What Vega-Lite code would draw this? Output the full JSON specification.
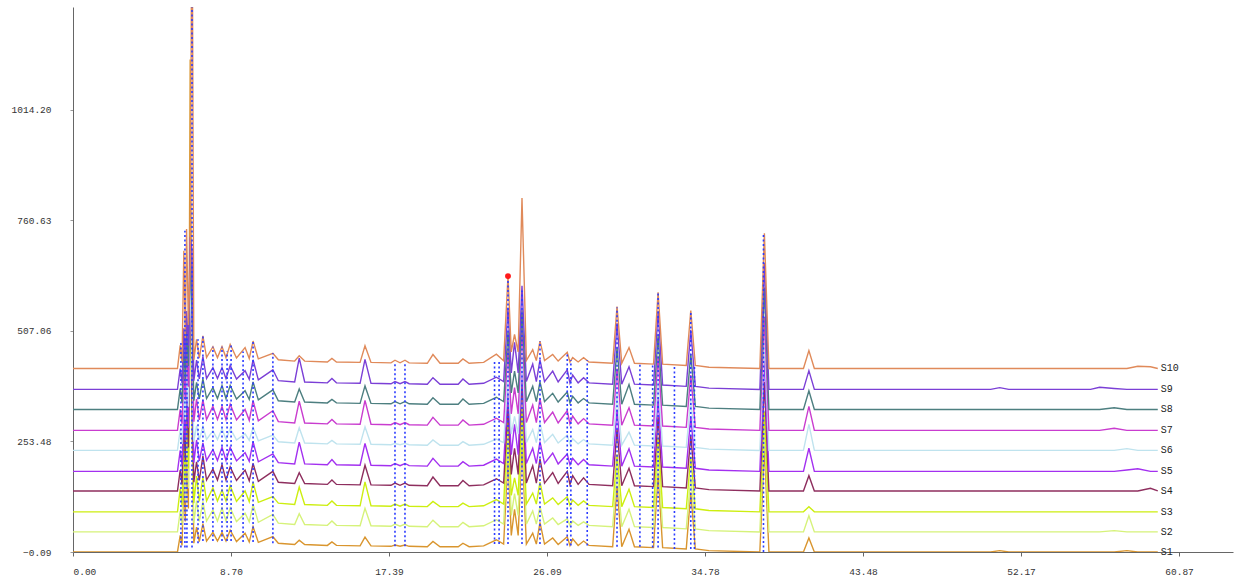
{
  "$schema": "https://vega.github.io/schema/vega-lite/v6.json",
  "width": 1160,
  "height": 545,
  "autosize": "none",
  "padding": {"left": 73, "top": 7, "right": 7, "bottom": 31},
  "background": "white",
  "config": {"view": {"stroke": null}},
  "datasets": {
    "traces": [
      {"t":0,"S1":0,"S2":46,"S3":92,"S4":140,"S5":185,"S6":233,"S7":279,"S8":327,"S9":373,"S10":421},
      {"t":5.75,"S1":0,"S2":46,"S3":92,"S4":140,"S5":185,"S6":233,"S7":279,"S8":327,"S9":373,"S10":421},
      {"t":5.9,"S1":38,"S2":94,"S3":145,"S4":188,"S5":233,"S6":281,"S7":327,"S8":375,"S9":421,"S10":474},
      {"t":6.0,"S1":15,"S2":61,"S3":107,"S4":155,"S5":200,"S6":248,"S7":294,"S8":342,"S9":388,"S10":436},
      {"t":6.1,"S1":170,"S2":246,"S3":312,"S4":310,"S5":325,"S6":373,"S7":419,"S8":467,"S9":513,"S10":691},
      {"t":6.18,"S1":70,"S2":116,"S3":162,"S4":210,"S5":255,"S6":303,"S7":349,"S8":397,"S9":443,"S10":491},
      {"t":6.25,"S1":220,"S2":366,"S3":462,"S4":410,"S5":405,"S6":433,"S7":479,"S8":517,"S9":553,"S10":741},
      {"t":6.35,"S1":100,"S2":146,"S3":192,"S4":240,"S5":285,"S6":333,"S7":379,"S8":427,"S9":473,"S10":521},
      {"t":6.45,"S1":1130,"S2":586,"S3":652,"S4":660,"S5":675,"S6":673,"S7":719,"S8":697,"S9":723,"S10":661},
      {"t":6.55,"S1":300,"S2":266,"S3":332,"S4":360,"S5":425,"S6":433,"S7":559,"S8":547,"S9":693,"S10":1591},
      {"t":6.65,"S1":20,"S2":66,"S3":112,"S4":160,"S5":205,"S6":253,"S7":299,"S8":347,"S9":393,"S10":441},
      {"t":6.8,"S1":57,"S2":118,"S3":174,"S4":207,"S5":257,"S6":290,"S7":351,"S8":389,"S9":440,"S10":488},
      {"t":6.95,"S1":24,"S2":70,"S3":116,"S4":164,"S5":209,"S6":257,"S7":303,"S8":351,"S9":397,"S10":445},
      {"t":7.15,"S1":65,"S2":116,"S3":172,"S4":220,"S5":250,"S6":288,"S7":349,"S8":397,"S9":448,"S10":496},
      {"t":7.35,"S1":25,"S2":71,"S3":117,"S4":165,"S5":210,"S6":258,"S7":304,"S8":352,"S9":398,"S10":446},
      {"t":7.7,"S1":45,"S2":96,"S3":147,"S4":190,"S5":235,"S6":278,"S7":334,"S8":377,"S9":423,"S10":471},
      {"t":7.95,"S1":25,"S2":71,"S3":117,"S4":165,"S5":210,"S6":258,"S7":304,"S8":352,"S9":398,"S10":446},
      {"t":8.2,"S1":45,"S2":101,"S3":142,"S4":200,"S5":240,"S6":283,"S7":334,"S8":382,"S9":423,"S10":471},
      {"t":8.42,"S1":25,"S2":71,"S3":117,"S4":165,"S5":210,"S6":258,"S7":304,"S8":352,"S9":398,"S10":446},
      {"t":8.65,"S1":50,"S2":101,"S3":152,"S4":195,"S5":240,"S6":283,"S7":339,"S8":382,"S9":428,"S10":476},
      {"t":9.0,"S1":24,"S2":70,"S3":116,"S4":164,"S5":209,"S6":257,"S7":303,"S8":351,"S9":397,"S10":445},
      {"t":9.47,"S1":43,"S2":89,"S3":140,"S4":188,"S5":228,"S6":271,"S7":327,"S8":370,"S9":416,"S10":469},
      {"t":9.7,"S1":23,"S2":69,"S3":115,"S4":163,"S5":208,"S6":256,"S7":302,"S8":350,"S9":396,"S10":444},
      {"t":9.91,"S1":58,"S2":109,"S3":160,"S4":203,"S5":253,"S6":286,"S7":347,"S8":390,"S9":441,"S10":484},
      {"t":10.2,"S1":22,"S2":68,"S3":114,"S4":162,"S5":207,"S6":255,"S7":301,"S8":349,"S9":395,"S10":443},
      {"t":11.0,"S1":35,"S2":86,"S3":127,"S4":185,"S5":225,"S6":268,"S7":324,"S8":372,"S9":418,"S10":456},
      {"t":11.3,"S1":20,"S2":66,"S3":112,"S4":160,"S5":205,"S6":253,"S7":299,"S8":347,"S9":393,"S10":441},
      {"t":12.2,"S1":17,"S2":63,"S3":109,"S4":157,"S5":202,"S6":250,"S7":296,"S8":344,"S9":390,"S10":438},
      {"t":12.45,"S1":27,"S2":88,"S3":149,"S4":182,"S5":252,"S6":285,"S7":346,"S8":374,"S9":445,"S10":450},
      {"t":12.75,"S1":17,"S2":63,"S3":109,"S4":157,"S5":202,"S6":250,"S7":296,"S8":344,"S9":390,"S10":438},
      {"t":14.0,"S1":15,"S2":61,"S3":107,"S4":155,"S5":200,"S6":248,"S7":294,"S8":342,"S9":388,"S10":436},
      {"t":14.25,"S1":23,"S2":71,"S3":117,"S4":165,"S5":212,"S6":256,"S7":304,"S8":350,"S9":398,"S10":444},
      {"t":14.5,"S1":15,"S2":61,"S3":107,"S4":155,"S5":200,"S6":248,"S7":294,"S8":342,"S9":388,"S10":436},
      {"t":15.8,"S1":14,"S2":60,"S3":106,"S4":154,"S5":199,"S6":247,"S7":293,"S8":341,"S9":387,"S10":435},
      {"t":16.07,"S1":34,"S2":100,"S3":161,"S4":199,"S5":249,"S6":287,"S7":348,"S8":381,"S9":442,"S10":473},
      {"t":16.4,"S1":14,"S2":60,"S3":106,"S4":154,"S5":199,"S6":247,"S7":293,"S8":341,"S9":387,"S10":435},
      {"t":17.5,"S1":13,"S2":59,"S3":105,"S4":153,"S5":198,"S6":246,"S7":292,"S8":340,"S9":386,"S10":434},
      {"t":17.72,"S1":16,"S2":64,"S3":110,"S4":158,"S5":203,"S6":249,"S7":297,"S8":345,"S9":391,"S10":440},
      {"t":18.0,"S1":13,"S2":59,"S3":105,"S4":153,"S5":198,"S6":246,"S7":292,"S8":340,"S9":386,"S10":434},
      {"t":18.27,"S1":16,"S2":64,"S3":110,"S4":158,"S5":203,"S6":249,"S7":297,"S8":345,"S9":391,"S10":440},
      {"t":18.5,"S1":13,"S2":59,"S3":105,"S4":153,"S5":198,"S6":246,"S7":292,"S8":340,"S9":386,"S10":434},
      {"t":19.5,"S1":12,"S2":58,"S3":104,"S4":152,"S5":197,"S6":245,"S7":291,"S8":339,"S9":385,"S10":433},
      {"t":19.81,"S1":24,"S2":73,"S3":116,"S4":172,"S5":215,"S6":257,"S7":309,"S8":354,"S9":400,"S10":453},
      {"t":20.2,"S1":12,"S2":58,"S3":104,"S4":152,"S5":197,"S6":245,"S7":291,"S8":339,"S9":385,"S10":433},
      {"t":21.2,"S1":12,"S2":58,"S3":104,"S4":152,"S5":197,"S6":245,"S7":291,"S8":339,"S9":385,"S10":433},
      {"t":21.46,"S1":20,"S2":68,"S3":112,"S4":164,"S5":207,"S6":253,"S7":303,"S8":351,"S9":397,"S10":443},
      {"t":21.8,"S1":12,"S2":58,"S3":104,"S4":152,"S5":197,"S6":245,"S7":291,"S8":339,"S9":385,"S10":433},
      {"t":22.6,"S1":14,"S2":60,"S3":106,"S4":154,"S5":199,"S6":247,"S7":293,"S8":341,"S9":387,"S10":435},
      {"t":23.3,"S1":28,"S2":74,"S3":120,"S4":168,"S5":213,"S6":259,"S7":307,"S8":355,"S9":401,"S10":454},
      {"t":23.7,"S1":18,"S2":64,"S3":110,"S4":158,"S5":203,"S6":251,"S7":297,"S8":345,"S9":391,"S10":439},
      {"t":23.94,"S1":218,"S2":254,"S3":310,"S4":338,"S5":373,"S6":401,"S7":467,"S8":505,"S9":561,"S10":633},
      {"t":24.12,"S1":38,"S2":84,"S3":130,"S4":178,"S5":223,"S6":271,"S7":317,"S8":365,"S9":411,"S10":459},
      {"t":24.3,"S1":98,"S2":134,"S3":170,"S4":238,"S5":293,"S6":311,"S7":377,"S8":415,"S9":481,"S10":499},
      {"t":24.5,"S1":38,"S2":84,"S3":130,"S4":178,"S5":223,"S6":271,"S7":317,"S8":365,"S9":411,"S10":459},
      {"t":24.71,"S1":248,"S2":294,"S3":330,"S4":398,"S5":433,"S6":451,"S7":517,"S8":555,"S9":611,"S10":812},
      {"t":24.95,"S1":18,"S2":64,"S3":110,"S4":158,"S5":203,"S6":251,"S7":297,"S8":345,"S9":391,"S10":439},
      {"t":25.3,"S1":43,"S2":94,"S3":135,"S4":198,"S5":238,"S6":281,"S7":337,"S8":380,"S9":431,"S10":464},
      {"t":25.5,"S1":18,"S2":64,"S3":110,"S4":158,"S5":203,"S6":251,"S7":297,"S8":345,"S9":391,"S10":439},
      {"t":25.7,"S1":68,"S2":104,"S3":160,"S4":213,"S5":253,"S6":296,"S7":352,"S8":390,"S9":441,"S10":484},
      {"t":25.95,"S1":18,"S2":64,"S3":110,"S4":158,"S5":203,"S6":251,"S7":297,"S8":345,"S9":391,"S10":439},
      {"t":26.4,"S1":32,"S2":78,"S3":124,"S4":182,"S5":227,"S6":270,"S7":321,"S8":364,"S9":415,"S10":453},
      {"t":26.7,"S1":17,"S2":63,"S3":109,"S4":157,"S5":202,"S6":250,"S7":296,"S8":344,"S9":390,"S10":438},
      {"t":27.2,"S1":35,"S2":76,"S3":127,"S4":185,"S5":225,"S6":268,"S7":324,"S8":367,"S9":418,"S10":458},
      {"t":27.35,"S1":15,"S2":61,"S3":107,"S4":155,"S5":200,"S6":248,"S7":294,"S8":342,"S9":388,"S10":436},
      {"t":27.5,"S1":30,"S2":71,"S3":119,"S4":175,"S5":215,"S6":260,"S7":312,"S8":357,"S9":406,"S10":446},
      {"t":27.8,"S1":15,"S2":61,"S3":107,"S4":155,"S5":200,"S6":248,"S7":294,"S8":342,"S9":388,"S10":436},
      {"t":28.1,"S1":25,"S2":69,"S3":117,"S4":170,"S5":212,"S6":258,"S7":306,"S8":352,"S9":400,"S10":446},
      {"t":28.4,"S1":15,"S2":61,"S3":107,"S4":155,"S5":200,"S6":248,"S7":294,"S8":342,"S9":388,"S10":436},
      {"t":29.7,"S1":12,"S2":58,"S3":104,"S4":152,"S5":197,"S6":245,"S7":291,"S8":339,"S9":385,"S10":433},
      {"t":29.94,"S1":152,"S2":188,"S3":224,"S4":282,"S5":327,"S6":365,"S7":421,"S8":469,"S9":525,"S10":563},
      {"t":30.2,"S1":12,"S2":58,"S3":104,"S4":152,"S5":197,"S6":245,"S7":291,"S8":339,"S9":385,"S10":433},
      {"t":30.6,"S1":52,"S2":98,"S3":144,"S4":192,"S5":237,"S6":275,"S7":331,"S8":384,"S9":425,"S10":469},
      {"t":30.9,"S1":12,"S2":58,"S3":104,"S4":152,"S5":197,"S6":245,"S7":291,"S8":339,"S9":385,"S10":433},
      {"t":31.95,"S1":10,"S2":56,"S3":102,"S4":150,"S5":195,"S6":243,"S7":289,"S8":337,"S9":383,"S10":431},
      {"t":32.2,"S1":180,"S2":216,"S3":262,"S4":310,"S5":355,"S6":393,"S7":449,"S8":497,"S9":553,"S10":596},
      {"t":32.45,"S1":10,"S2":56,"S3":102,"S4":150,"S5":195,"S6":243,"S7":289,"S8":337,"S9":383,"S10":431},
      {"t":33.75,"S1":7,"S2":53,"S3":99,"S4":147,"S5":192,"S6":240,"S7":286,"S8":334,"S9":380,"S10":428},
      {"t":34.0,"S1":137,"S2":173,"S3":219,"S4":267,"S5":312,"S6":350,"S7":406,"S8":454,"S9":510,"S10":554},
      {"t":34.25,"S1":7,"S2":53,"S3":99,"S4":147,"S5":192,"S6":240,"S7":286,"S8":334,"S9":380,"S10":428},
      {"t":35.0,"S1":3,"S2":49,"S3":95,"S4":143,"S5":188,"S6":236,"S7":282,"S8":330,"S9":376,"S10":424},
      {"t":37.8,"S1":0,"S2":46,"S3":92,"S4":140,"S5":185,"S6":233,"S7":279,"S8":327,"S9":373,"S10":421},
      {"t":38.05,"S1":240,"S2":276,"S3":322,"S4":390,"S5":445,"S6":483,"S7":539,"S8":607,"S9":663,"S10":731},
      {"t":38.3,"S1":0,"S2":46,"S3":92,"S4":140,"S5":185,"S6":233,"S7":279,"S8":327,"S9":373,"S10":421},
      {"t":40.2,"S1":0,"S2":46,"S3":92,"S4":140,"S5":185,"S6":233,"S7":279,"S8":327,"S9":373,"S10":421},
      {"t":40.5,"S1":32,"S2":83,"S3":104,"S4":175,"S5":238,"S6":293,"S7":334,"S8":370,"S9":416,"S10":462},
      {"t":40.8,"S1":0,"S2":46,"S3":92,"S4":140,"S5":185,"S6":233,"S7":279,"S8":327,"S9":373,"S10":421},
      {"t":45.0,"S1":0,"S2":46,"S3":92,"S4":140,"S5":185,"S6":233,"S7":279,"S8":327,"S9":373,"S10":421},
      {"t":50.5,"S1":0,"S2":46,"S3":92,"S4":140,"S5":185,"S6":233,"S7":279,"S8":327,"S9":373,"S10":421},
      {"t":51.0,"S1":3,"S2":46,"S3":92,"S4":140,"S5":185,"S6":233,"S7":279,"S8":327,"S9":377,"S10":421},
      {"t":51.5,"S1":0,"S2":46,"S3":92,"S4":140,"S5":185,"S6":233,"S7":279,"S8":327,"S9":373,"S10":421},
      {"t":56.0,"S1":0,"S2":46,"S3":92,"S4":140,"S5":185,"S6":233,"S7":279,"S8":327,"S9":373,"S10":421},
      {"t":56.5,"S1":0,"S2":46,"S3":92,"S4":140,"S5":185,"S6":233,"S7":279,"S8":327,"S9":378,"S10":421},
      {"t":57.3,"S1":0,"S2":49,"S3":92,"S4":140,"S5":185,"S6":233,"S7":284,"S8":331,"S9":375,"S10":421},
      {"t":58.0,"S1":3,"S2":46,"S3":92,"S4":140,"S5":188,"S6":237,"S7":279,"S8":327,"S9":373,"S10":421},
      {"t":58.6,"S1":0,"S2":46,"S3":92,"S4":140,"S5":191,"S6":233,"S7":279,"S8":327,"S9":373,"S10":426},
      {"t":59.3,"S1":0,"S2":46,"S3":92,"S4":146,"S5":185,"S6":233,"S7":279,"S8":327,"S9":373,"S10":425},
      {"t":59.7,"S1":0,"S2":46,"S3":92,"S4":140,"S5":185,"S6":233,"S7":279,"S8":327,"S9":373,"S10":421}
    ],
    "marks": [
      {"t":5.94,"lo":10,"hi":480},
      {"t":6.16,"lo":10,"hi":737},
      {"t":6.27,"lo":10,"hi":500},
      {"t":6.55,"lo":10,"hi":1300},
      {"t":6.88,"lo":20,"hi":488},
      {"t":7.15,"lo":25,"hi":496},
      {"t":7.7,"lo":25,"hi":471},
      {"t":8.2,"lo":25,"hi":471},
      {"t":8.48,"lo":25,"hi":460},
      {"t":8.7,"lo":25,"hi":476},
      {"t":9.36,"lo":23,"hi":460},
      {"t":9.91,"lo":23,"hi":484},
      {"t":11.0,"lo":20,"hi":456},
      {"t":17.72,"lo":13,"hi":434},
      {"t":18.27,"lo":13,"hi":434},
      {"t":23.2,"lo":18,"hi":440},
      {"t":23.45,"lo":18,"hi":440},
      {"t":23.94,"lo":18,"hi":633},
      {"t":24.71,"lo":18,"hi":600},
      {"t":25.7,"lo":18,"hi":484},
      {"t":27.2,"lo":15,"hi":458},
      {"t":27.4,"lo":15,"hi":440},
      {"t":28.3,"lo":15,"hi":440},
      {"t":29.94,"lo":12,"hi":561},
      {"t":31.2,"lo":12,"hi":433},
      {"t":31.9,"lo":10,"hi":433},
      {"t":32.2,"lo":10,"hi":596},
      {"t":33.1,"lo":7,"hi":430},
      {"t":34.0,"lo":7,"hi":554},
      {"t":34.2,"lo":7,"hi":430},
      {"t":38.0,"lo":0,"hi":731}
    ],
    "red": [
      {"t":23.94,"value":633}
    ]
  },
  "layer": [
    {
      "data": {"name": "traces"},
      "transform": [
        {"fold": ["S1","S2","S3","S4","S5","S6","S7","S8","S9","S10"], "as": ["series","value"]}
      ],
      "mark": {"type": "line", "strokeWidth": 1.4, "clip": true},
      "encoding": {
        "x": {"field": "t", "type": "quantitative",
              "scale": {"domain": [0, 63.84], "nice": false, "zero": false},
              "axis": {"title": null, "values": [0, 8.6957, 17.3914, 26.0871, 34.7829, 43.4786, 52.1743, 60.87],
                       "format": ".2f", "grid": false, "domainColor": "#666", "tickColor": "#666", "tickSize": 4,
                       "labelFont": "Liberation Mono", "labelFontSize": 9.5, "labelColor": "#333", "labelPadding": 10}},
        "y": {"field": "value", "type": "quantitative",
              "scale": {"domain": [-0.09, 1250.5], "nice": false, "zero": false},
              "axis": {"title": null, "values": [-0.09, 253.4825, 507.0551, 760.628, 1014.2],
                       "format": ".2f", "grid": false, "domainColor": "#666", "tickColor": "#999", "tickSize": 3,
                       "labelFont": "Liberation Mono", "labelFontSize": 9.5, "labelColor": "#333", "labelPadding": 19}},
        "color": {"field": "series", "type": "nominal", "legend": null,
                  "scale": {"domain": ["S1","S2","S3","S4","S5","S6","S7","S8","S9","S10"],
                            "range": ["#d9952e","#d6f27a","#cdee10","#8e2e5e","#a330f0","#bfe3ee","#c93ccf","#4d7f80","#7b3fd6","#e08a5a"]}}
      }
    },
    {
      "data": {"name": "marks"},
      "mark": {"type": "rule", "color": "#2b3bff", "strokeWidth": 1.6, "strokeDash": [2, 2.5], "clip": true},
      "encoding": {
        "x": {"field": "t", "type": "quantitative"},
        "y": {"field": "lo", "type": "quantitative"},
        "y2": {"field": "hi"}
      }
    },
    {
      "data": {"name": "red"},
      "mark": {"type": "point", "filled": true, "color": "#ff1a1a", "size": 35, "opacity": 1},
      "encoding": {
        "x": {"field": "t", "type": "quantitative"},
        "y": {"field": "value", "type": "quantitative"}
      }
    },
    {
      "data": {"name": "traces"},
      "transform": [
        {"filter": "datum.t == 59.7"},
        {"fold": ["S1","S2","S3","S4","S5","S6","S7","S8","S9","S10"], "as": ["series","value"]}
      ],
      "mark": {"type": "text", "align": "left", "baseline": "middle", "dx": 3, "font": "Liberation Mono", "fontSize": 10, "color": "#222"},
      "encoding": {
        "x": {"field": "t", "type": "quantitative"},
        "y": {"field": "value", "type": "quantitative"},
        "text": {"field": "series", "type": "nominal"}
      }
    }
  ]
}
